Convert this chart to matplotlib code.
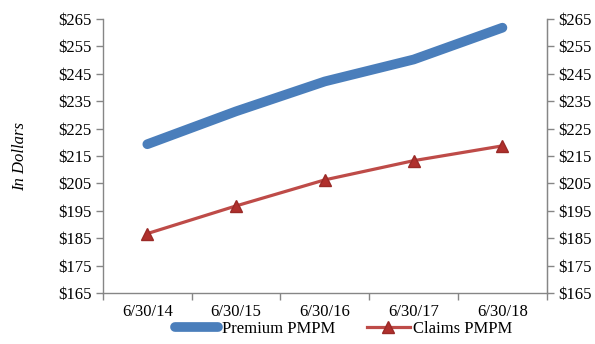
import matplotlib
matplotlib.use("Agg")
import matplotlib.pyplot as plt
from matplotlib.ticker import FixedLocator, NullFormatter

categories = ["6/30/14", "6/30/15", "6/30/16", "6/30/17", "6/30/18"]
premium = [219.3, 231.3, 242.2, 250.2, 261.8]
claims = [186.7, 196.8, 206.3, 213.3, 218.7]
yticks = list(range(165, 266, 10))

plt.rcParams['font.family'] = ['Liberation Serif', 'DejaVu Serif']

fig = plt.figure(figsize=(5.95, 3.44), dpi=100)
ax = fig.add_axes([0.173, 0.148, 0.746, 0.797])
x = list(range(len(categories)))

ax.plot(x, premium, color='#4a7ebb', lw=7.0, solid_capstyle='round',
        solid_joinstyle='round', label='Premium PMPM', zorder=3)
ax.plot(x, claims, color='#be4b48', lw=2.3, marker='^', markersize=9,
        markerfacecolor='#b0302d', markeredgecolor='#9a2a27',
        label='Claims PMPM', zorder=3)

ax.set_xlim(-0.5, 4.5)
ax.set_ylim(165, 265)
ax.set_yticks(yticks)
ax.set_yticklabels([f"${v}" for v in yticks])
ax.set_xticks(x)
ax.set_xticklabels(categories)
ax.xaxis.set_minor_locator(FixedLocator([i - 0.5 for i in range(len(categories) + 1)]))
ax.xaxis.set_minor_formatter(NullFormatter())
ax.tick_params(axis='x', which='major', length=0, pad=8, labelsize=12)
ax.tick_params(axis='x', which='minor', length=5, color='#868686', width=1)
ax.tick_params(axis='y', length=5, color='#868686', width=1, labelsize=12, pad=3)

ax.spines['top'].set_visible(False)
for s in ['left', 'right', 'bottom']:
    ax.spines[s].set_color('#868686')
    ax.spines[s].set_linewidth(1)

ax2 = ax.twinx()
ax2.set_ylim(165, 265)
ax2.set_yticks(yticks)
ax2.set_yticklabels([f"${v}" for v in yticks])
ax2.tick_params(axis='y', length=5, color='#868686', width=1, labelsize=12, pad=3)
for s in ['top', 'left', 'bottom']:
    ax2.spines[s].set_visible(False)
ax2.spines['right'].set_color('#868686')

ax.set_ylabel("In Dollars", fontsize=12, style='italic', labelpad=22)

fig.legend(loc='center', bbox_to_anchor=(0.578, 0.044), ncol=2, frameon=False,
           fontsize=12, handlelength=2.6, handletextpad=0.2, columnspacing=1.9,
           borderpad=0, borderaxespad=0)

fig.savefig("out.png", dpi=100)
